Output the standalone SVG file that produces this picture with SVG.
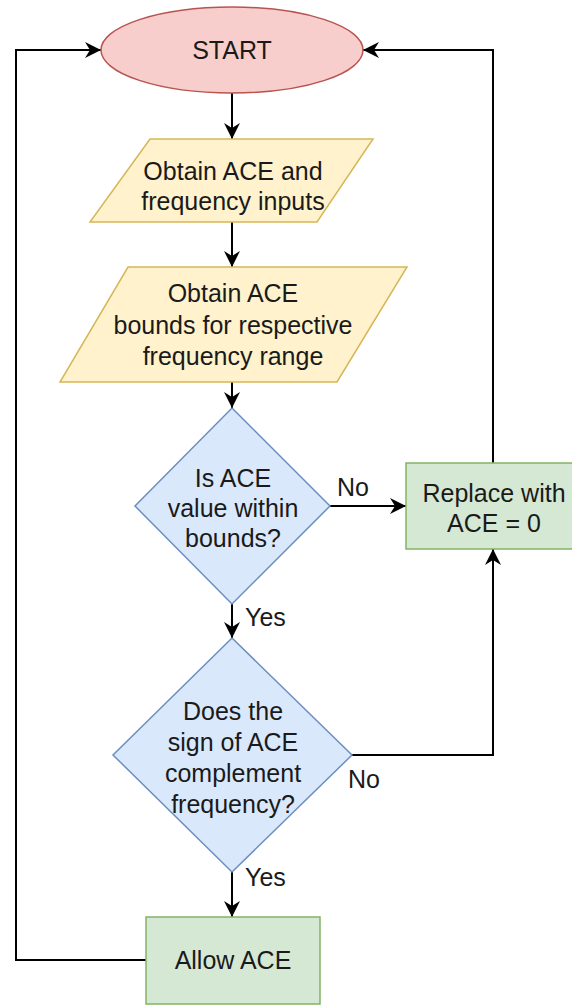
<svg xmlns="http://www.w3.org/2000/svg" width="572" height="1006" viewBox="0 0 572 1006">
  <style>
    .lbl { font-family: "Liberation Sans", Arial, sans-serif; font-size: 25px; fill: #1a1a1a; text-anchor: middle; }
    .edge { font-family: "Liberation Sans", Arial, sans-serif; font-size: 25px; fill: #1a1a1a; }
    .term { fill: #f8cecc; stroke: #b85450; stroke-width: 1.5; }
    .io { fill: #fff2cc; stroke: #d6b656; stroke-width: 1.5; }
    .dec { fill: #dae8fc; stroke: #6c8ebf; stroke-width: 1.5; }
    .proc { fill: #d5e8d4; stroke: #82b366; stroke-width: 1.5; }
    .conn { fill: none; stroke: #000; stroke-width: 2; marker-end: url(#arrow); }
  </style>
  <defs>
    <marker id="arrow" markerUnits="userSpaceOnUse" markerWidth="16" markerHeight="16" refX="16" refY="8" orient="auto">
      <path d="M0,0 L16,8 L0,16 L5,8 z" fill="#000"/>
    </marker>
  </defs>
  <rect width="572" height="1006" fill="#fff"/>

  <g id="connectors">
    <path class="conn" d="M232,93 V139"/>
    <path class="conn" d="M232,222 V267"/>
    <path class="conn" d="M232,382 V408"/>
    <path class="conn" d="M330,506 H406"/>
    <path class="conn" d="M232,604 V638"/>
    <path class="conn" d="M352,755 H493 V549"/>
    <path class="conn" d="M232,872 V917"/>
    <path class="conn" d="M146,960 H16 V50 H101"/>
    <path class="conn" d="M493,463 V50 H363"/>
    <text class="edge" x="337" y="496">No</text>
    <text class="edge" x="245" y="626">Yes</text>
    <text class="edge" x="348" y="788">No</text>
    <text class="edge" x="245" y="886">Yes</text>
  </g>

  <g id="start">
    <ellipse class="term" cx="232" cy="50" rx="131" ry="43"/>
    <text class="lbl" x="232" y="59">START</text>
  </g>

  <g id="obtain-inputs">
    <polygon class="io" points="150,139 373,139 317,222 90,222"/>
    <text class="lbl" x="233" y="180">Obtain ACE and</text>
    <text class="lbl" x="233" y="210">frequency inputs</text>
  </g>

  <g id="obtain-bounds">
    <polygon class="io" points="128,267 407,267 337,382 60,382"/>
    <text class="lbl" x="233" y="302">Obtain ACE</text>
    <text class="lbl" x="233" y="334">bounds for respective</text>
    <text class="lbl" x="233" y="365">frequency range</text>
  </g>

  <g id="within-bounds">
    <polygon class="dec" points="232,408 330,506 232,604 135,506"/>
    <text class="lbl" x="233" y="487">Is ACE</text>
    <text class="lbl" x="233" y="517">value within</text>
    <text class="lbl" x="233" y="547">bounds?</text>
  </g>

  <g id="replace">
    <rect class="proc" x="406" y="463" width="174" height="86"/>
    <text class="lbl" x="494" y="502">Replace with</text>
    <text class="lbl" x="494" y="532">ACE = 0</text>
  </g>

  <g id="sign-check">
    <polygon class="dec" points="232,638 352,755 232,872 113,755"/>
    <text class="lbl" x="233" y="720">Does the</text>
    <text class="lbl" x="233" y="751">sign of ACE</text>
    <text class="lbl" x="233" y="782">complement</text>
    <text class="lbl" x="233" y="813">frequency?</text>
  </g>

  <g id="allow">
    <rect class="proc" x="146" y="917" width="174" height="87"/>
    <text class="lbl" x="233" y="969">Allow ACE</text>
  </g>
</svg>
